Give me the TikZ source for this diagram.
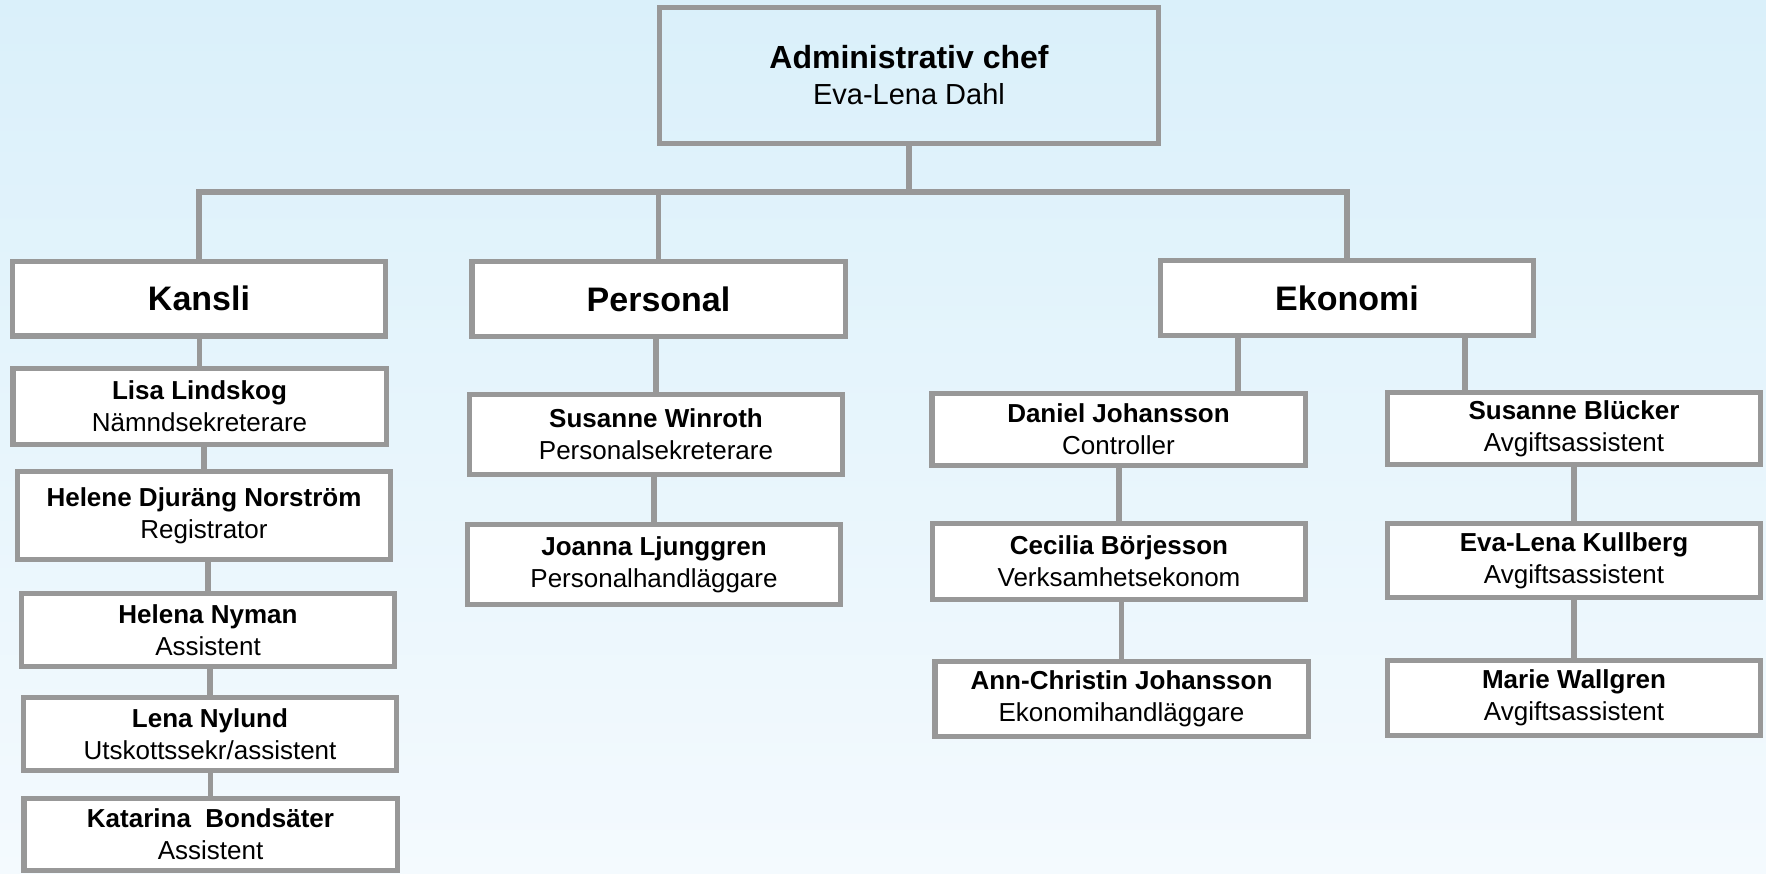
\documentclass[tikz,border=0pt]{standalone}
\usepackage{fontspec}
\setmainfont{Liberation Sans}
\usetikzlibrary{calc}

\definecolor{boxgray}{RGB}{152,152,152}
\definecolor{skytop}{RGB}{218,240,250}
\definecolor{skybottom}{RGB}{244,250,254}

\tikzset{
  unit/.style={draw=boxgray, line width=2.7pt, fill=white, align=center, inner sep=0pt,
    minimum width=186.7pt, font=\fontsize{13}{16}\selectfont},
  dept/.style={unit, minimum height=37.3pt, font=\bfseries\fontsize{17}{20}\selectfont},
  link/.style={draw=boxgray, line width=2.6pt},
}

\begin{document}
\begin{tikzpicture}[x=0.5pt, y=-0.5pt]

\shade[top color=skytop, bottom color=skybottom] (0,0) rectangle (1766,873);
\useasboundingbox (0,0) rectangle (1766,873);

% head
\node[unit, fill=none, minimum width=249.3pt, minimum height=67.8pt, font=\fontsize{14.5}{18}\selectfont]
  (chef) at (909,75.5) {{\bfseries\fontsize{16}{18}\selectfont Administrativ chef}\\Eva-Lena Dahl};

% departments
\node[dept] (kansli) at (199,298.5) {Kansli};
\node[dept] (personal) at (658.5,299) {Personal};
\node[dept] (ekonomi) at (1347,298) {Ekonomi};

\coordinate (bus) at (0,192);
\draw[link] (chef.south) -- (chef.south |- bus);
\draw[link] (kansli.north) |- (ekonomi.north |- bus) -- (ekonomi.north);
\draw[link] (personal.north) -- (personal.north |- bus);

% Kansli
\node[unit, minimum height=37.8pt] (lisa) at (199.5,406.5) {\textbf{Lisa Lindskog}\\Nämndsekreterare};
\node[unit, minimum height=43.8pt] (helene) at (204,515.5) {\textbf{Helene Djuräng Norström}\\Registrator};
\node[unit, minimum height=36.3pt] (helena) at (208,630) {\textbf{Helena Nyman}\\Assistent};
\node[unit, minimum height=36.3pt] (lena) at (210,734) {\textbf{Lena Nylund}\\Utskottssekr/assistent};
\node[unit, minimum height=35.8pt] (katarina) at (210.5,834.5) {\textbf{Katarina\ \ Bondsäter}\\Assistent};

% Personal
\node[unit, minimum height=39.8pt] (winroth) at (656,434.5) {\textbf{Susanne Winroth}\\Personalsekreterare};
\node[unit, minimum height=39.8pt] (ljunggren) at (654,564.5) {\textbf{Joanna Ljunggren}\\Personalhandläggare};

% Ekonomi
\node[unit, minimum height=35.8pt] (daniel) at (1118.5,429.5) {\textbf{Daniel Johansson}\\Controller};
\node[unit, minimum height=37.8pt] (cecilia) at (1119,561.5) {\textbf{Cecilia Börjesson}\\Verksamhetsekonom};
\node[unit, minimum height=37.3pt] (annchristin) at (1121.5,699) {\textbf{Ann-Christin Johansson}\\Ekonomihandläggare};
\node[unit, minimum height=35.8pt] (blucker) at (1574,428.5) {\textbf{Susanne Blücker}\\Avgiftsassistent};
\node[unit, minimum height=36.8pt] (kullberg) at (1574,560.5) {\textbf{Eva-Lena Kullberg}\\Avgiftsassistent};
\node[unit, minimum height=37.3pt] (wallgren) at (1574,698) {\textbf{Marie Wallgren}\\Avgiftsassistent};

\foreach \a/\b in {kansli/lisa, lisa/helene, helene/helena, helena/lena, lena/katarina,
    personal/winroth, winroth/ljunggren, daniel/cecilia, cecilia/annchristin,
    blucker/kullberg, kullberg/wallgren}
  \draw[link] (\b.north) -- (\b.north |- \a.south);

\coordinate (eleft) at ($(ekonomi.south)+(-109,0)$);
\coordinate (eright) at ($(ekonomi.south)+(118,0)$);
\draw[link] (eleft) -- (eleft |- daniel.north);
\draw[link] (eright) -- (eright |- blucker.north);

\end{tikzpicture}
\end{document}
